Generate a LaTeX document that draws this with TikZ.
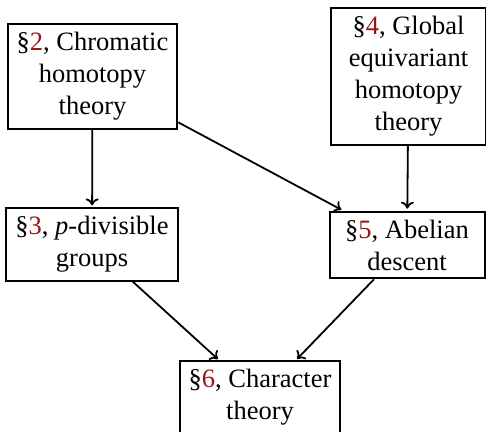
\documentclass[tikz,border=0pt]{standalone}
\usepackage{fontspec}
\usetikzlibrary{arrows.meta}
\setmainfont{Liberation Serif}
\definecolor{secred}{RGB}{150,22,22}
\newcommand{\secref}[1]{\S\textcolor{secred}{#1}}
\tikzset{
  section/.style={draw, line width=2pt, align=center, inner xsep=9pt, inner ysep=8pt,
    minimum width=155pt, font=\fontsize{26.5}{32}\selectfont},
}
\begin{document}
\begin{tikzpicture}[x=1pt, y=-1pt]
      \useasboundingbox (0,0) rectangle (486,431);
      \draw
        (92.5,76.5) node[section] (chrom){\secref{2}, Chromatic\\homotopy\\theory}
        (408.5,76.5) node[section] (global){\secref{4}, Global\\equivariant\\homotopy\\theory}
        (92,244.5) node[section] (pdiv){\secref{3}, \textit{p}-divisible\\groups}
        (407,245) node[section] (abel){\secref{5}, Abelian\\descent}
        (260,397.5) node[section] (char){\secref{6}, Character\\theory};
      \begin{scope}[-{To[length=7pt,width=13pt]}, line width=1.8pt, shorten >=2pt]
        \draw (chrom) to (pdiv);
        \draw (chrom) to (abel);
        \draw (global) to (abel);
        \draw (pdiv) to (char);
        \draw (abel) to (char);
      \end{scope}
    \end{tikzpicture}
\end{document}
